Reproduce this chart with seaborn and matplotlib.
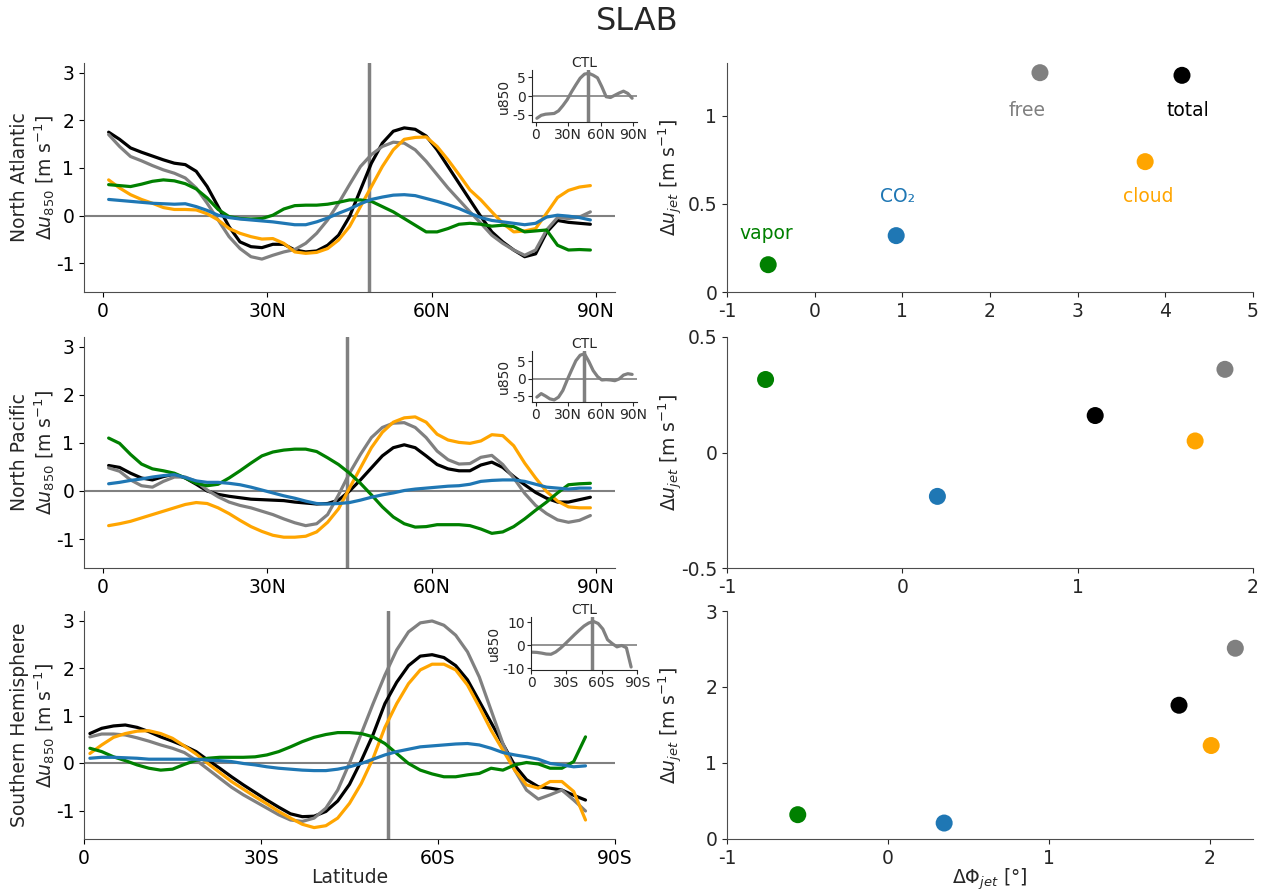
import numpy as np
import pandas as pd
import matplotlib
matplotlib.use('Agg')
import matplotlib.pyplot as plt
import seaborn as sns
from matplotlib.ticker import FuncFormatter

sns.set_style('ticks')
plt.rcParams['font.family'] = ['DejaVu Sans']
plt.rcParams['axes.unicode_minus'] = False

# ---------------- data ----------------
lat_nh = list(range(1, 90, 2))   # 1..89
lat_sh = list(range(1, 86, 2))   # 1..85

# North Atlantic
na_total = [1.75, 1.60, 1.42, 1.33, 1.25, 1.17, 1.10, 1.07, 0.93, 0.61, 0.19, -0.23, -0.55, -0.65, -0.67,
            -0.60, -0.60, -0.72, -0.76, -0.74, -0.62, -0.41, -0.02, 0.54, 1.10, 1.52, 1.77, 1.84, 1.81, 1.67,
            1.38, 1.03, 0.68, 0.33, -0.02, -0.34, -0.55, -0.72, -0.86, -0.80, -0.35, -0.10, -0.14, -0.16, -0.18]
na_free = [1.70, 1.45, 1.24, 1.15, 1.05, 0.96, 0.89, 0.79, 0.58, 0.26, -0.09, -0.44, -0.69, -0.86, -0.91,
           -0.83, -0.76, -0.71, -0.58, -0.37, -0.09, 0.26, 0.65, 1.03, 1.28, 1.45, 1.54, 1.52, 1.38, 1.14,
           0.86, 0.58, 0.33, 0.08, -0.16, -0.41, -0.58, -0.72, -0.83, -0.72, -0.30, -0.04, -0.06, -0.03, 0.08]
na_cloud = [0.75, 0.58, 0.44, 0.34, 0.26, 0.17, 0.13, 0.13, 0.12, 0.04, -0.09, -0.27, -0.37, -0.44, -0.49,
            -0.48, -0.58, -0.76, -0.79, -0.77, -0.69, -0.51, -0.23, 0.19, 0.61, 1.03, 1.38, 1.60, 1.64, 1.65,
            1.45, 1.17, 0.86, 0.54, 0.33, 0.08, -0.16, -0.34, -0.32, -0.27, 0.05, 0.38, 0.53, 0.60, 0.63]
na_vapor = [0.65, 0.63, 0.61, 0.66, 0.72, 0.75, 0.73, 0.67, 0.56, 0.37, 0.13, -0.02, -0.06, -0.07, -0.06,
            0.01, 0.14, 0.21, 0.22, 0.22, 0.24, 0.28, 0.33, 0.33, 0.30, 0.19, 0.08, -0.06, -0.20, -0.34,
            -0.34, -0.27, -0.18, -0.16, -0.18, -0.22, -0.20, -0.23, -0.34, -0.32, -0.30, -0.62, -0.72, -0.71, -0.72]
na_co2 = [0.34, 0.32, 0.30, 0.28, 0.26, 0.25, 0.24, 0.25, 0.19, 0.11, 0.01, -0.04, -0.07, -0.09, -0.11,
          -0.13, -0.16, -0.19, -0.19, -0.13, -0.05, 0.05, 0.14, 0.25, 0.34, 0.39, 0.43, 0.44, 0.42, 0.36,
          0.30, 0.23, 0.15, 0.05, -0.04, -0.10, -0.13, -0.16, -0.19, -0.16, -0.03, 0.01, -0.01, -0.04, -0.09]

# North Pacific
np_total = [0.53, 0.49, 0.37, 0.27, 0.23, 0.30, 0.35, 0.27, 0.14, 0.00, -0.07, -0.11, -0.14, -0.17, -0.18,
            -0.19, -0.20, -0.23, -0.25, -0.27, -0.26, -0.19, 0.00, 0.23, 0.48, 0.73, 0.90, 0.96, 0.90, 0.73,
            0.55, 0.46, 0.42, 0.42, 0.54, 0.60, 0.49, 0.30, 0.13, -0.03, -0.15, -0.23, -0.23, -0.18, -0.13]
np_free = [0.48, 0.41, 0.23, 0.11, 0.08, 0.20, 0.29, 0.29, 0.20, 0.02, -0.12, -0.23, -0.30, -0.35, -0.42,
           -0.49, -0.58, -0.66, -0.72, -0.68, -0.49, -0.08, 0.37, 0.76, 1.11, 1.32, 1.41, 1.42, 1.32, 1.11,
           0.83, 0.65, 0.56, 0.57, 0.70, 0.74, 0.55, 0.27, -0.05, -0.30, -0.47, -0.60, -0.65, -0.61, -0.51]
np_cloud = [-0.72, -0.68, -0.63, -0.56, -0.49, -0.42, -0.35, -0.28, -0.24, -0.26, -0.35, -0.47, -0.61, -0.74, -0.84,
            -0.92, -0.96, -0.96, -0.94, -0.85, -0.65, -0.37, 0.06, 0.48, 0.90, 1.22, 1.43, 1.52, 1.54, 1.43,
            1.18, 1.06, 1.01, 0.99, 1.04, 1.17, 1.15, 0.94, 0.58, 0.27, -0.01, -0.21, -0.33, -0.35, -0.35]
np_vapor = [1.10, 0.99, 0.76, 0.56, 0.46, 0.42, 0.37, 0.27, 0.16, 0.11, 0.14, 0.27, 0.42, 0.58, 0.73,
            0.81, 0.85, 0.87, 0.87, 0.82, 0.69, 0.55, 0.37, 0.16, -0.08, -0.33, -0.54, -0.68, -0.75, -0.74,
            -0.70, -0.70, -0.70, -0.72, -0.79, -0.88, -0.85, -0.74, -0.58, -0.40, -0.23, -0.04, 0.13, 0.15, 0.16]
np_co2 = [0.15, 0.18, 0.22, 0.25, 0.29, 0.32, 0.34, 0.28, 0.21, 0.18, 0.18, 0.16, 0.13, 0.08, 0.02,
          -0.04, -0.10, -0.15, -0.21, -0.26, -0.27, -0.26, -0.24, -0.19, -0.13, -0.08, -0.04, 0.01, 0.04, 0.06,
          0.08, 0.10, 0.11, 0.14, 0.20, 0.22, 0.23, 0.23, 0.20, 0.14, 0.08, 0.06, 0.04, 0.06, 0.06]

# Southern Hemisphere
sh_total = [0.62, 0.73, 0.78, 0.80, 0.75, 0.66, 0.55, 0.46, 0.36, 0.24, 0.06, -0.11, -0.29, -0.46, -0.62,
            -0.78, -0.93, -1.07, -1.13, -1.12, -1.02, -0.80, -0.45, 0.05, 0.60, 1.25, 1.70, 2.05, 2.25, 2.28,
            2.22, 2.05, 1.75, 1.30, 0.85, 0.40, -0.05, -0.35, -0.50, -0.53, -0.57, -0.68, -0.78]
sh_free = [0.55, 0.61, 0.61, 0.59, 0.53, 0.46, 0.38, 0.31, 0.22, 0.06, -0.13, -0.32, -0.51, -0.67, -0.81,
           -0.95, -1.09, -1.20, -1.23, -1.16, -0.95, -0.57, 0.00, 0.62, 1.25, 1.85, 2.38, 2.76, 2.95, 2.99,
           2.90, 2.69, 2.34, 1.81, 1.11, 0.41, -0.15, -0.57, -0.76, -0.67, -0.57, -0.78, -1.01]
sh_cloud = [0.20, 0.38, 0.54, 0.62, 0.67, 0.68, 0.62, 0.52, 0.36, 0.19, -0.01, -0.20, -0.39, -0.55, -0.71,
            -0.86, -1.02, -1.16, -1.29, -1.36, -1.32, -1.16, -0.85, -0.43, 0.10, 0.75, 1.25, 1.67, 1.96, 2.08,
            2.08, 1.96, 1.64, 1.18, 0.69, 0.27, -0.15, -0.46, -0.53, -0.39, -0.39, -0.60, -1.20]
sh_vapor = [0.31, 0.24, 0.13, 0.05, -0.04, -0.11, -0.15, -0.13, -0.03, 0.06, 0.10, 0.12, 0.12, 0.12, 0.13,
            0.17, 0.24, 0.34, 0.45, 0.54, 0.60, 0.64, 0.64, 0.62, 0.55, 0.41, 0.20, -0.01, -0.15, -0.23,
            -0.29, -0.29, -0.25, -0.22, -0.11, -0.15, -0.04, 0.01, -0.02, -0.11, -0.11, 0.03, 0.55]
sh_co2 = [0.10, 0.12, 0.12, 0.11, 0.10, 0.08, 0.08, 0.08, 0.08, 0.08, 0.06, 0.05, 0.03, -0.01, -0.04,
          -0.08, -0.11, -0.13, -0.15, -0.16, -0.16, -0.13, -0.08, -0.01, 0.08, 0.17, 0.24, 0.29, 0.34, 0.36,
          0.38, 0.40, 0.41, 0.38, 0.31, 0.22, 0.17, 0.13, 0.08, -0.01, -0.04, -0.08, -0.06]

# CTL insets
ctl_lat_nh = list(range(1, 90, 4))
ctl_lat_sh = list(range(1, 86, 4))
ctl_na = [-6.0, -5.2, -4.9, -4.8, -4.7, -4.0, -2.6, -1.0, 1.1, 3.0, 4.8, 5.9, 6.1, 5.6, 4.9, 2.5,
          -0.2, -0.4, 0.2, 0.8, 1.3, 0.7, -0.6]
ctl_np = [-5.2, -4.2, -4.9, -5.7, -6.0, -5.2, -3.3, -0.3, 2.5, 5.2, 6.8, 7.2, 5.0, 2.4, 0.7, -0.3,
          -0.2, -0.3, -0.5, 0.0, 1.1, 1.5, 1.3]
ctl_sh = [-3.0, -3.1, -3.4, -3.8, -3.9, -2.9, -1.3, 0.6, 2.6, 4.6, 6.5, 8.3, 9.6, 10.3, 9.4, 7.0,
          2.4, 0.7, -0.7, -0.1, -1.1, -9.4]

jet_lat = [48.5, 44.5, 51.5]

# Jet shift / jet strength change
labels = ['total', 'free', 'cloud', 'vapor', 'CO₂']
colors = ['black', 'gray', 'orange', 'green', 'tab:blue']
dphi_na = [4.19, 2.57, 3.77, -0.53, 0.93]
du_na = [1.23, 1.245, 0.74, 0.155, 0.32]
dphi_np = [1.10, 1.84, 1.67, -0.78, 0.20]
du_np = [0.16, 0.36, 0.05, 0.316, -0.19]
dphi_sh = [1.81, 2.16, 2.01, -0.56, 0.35]
du_sh = [1.76, 2.51, 1.23, 0.32, 0.21]

# ---------------- figure ----------------
fig = plt.figure(figsize=(12.74, 8.9), dpi=100)
W, H = 1274, 890


def rect(x0, y0, x1, y1):
    return [x0 / W, 1 - y1 / H, (x1 - x0) / W, (y1 - y0) / H]


rows = [(63, 292), (337, 568), (611, 839)]
FS = 13.5
spine_col = '0.3'

line_sets = [
    (lat_nh, [na_total, na_free, na_cloud, na_vapor, na_co2]),
    (lat_nh, [np_total, np_free, np_cloud, np_vapor, np_co2]),
    (lat_sh, [sh_total, sh_free, sh_cloud, sh_vapor, sh_co2]),
]
region_names = ['North Atlantic', 'North Pacific', 'Southern Hemisphere']
xlims = [(-3.5, 93.5), (-3.5, 93.5), (0, 90)]
xticklabels = [['0', '30N', '60N', '90N'], ['0', '30N', '60N', '90N'], ['0', '30S', '60S', '90S']]

inset_rects = [(532, 70, 637, 122), (532, 351, 637, 402), (531, 617, 637, 670)]
inset_data = [(ctl_lat_nh, ctl_na), (ctl_lat_nh, ctl_np), (ctl_lat_sh, ctl_sh)]
inset_ylims = [(-7, 7), (-6.6, 8), (-10.7, 12.2)]
inset_yticks = [[-5, 0, 5], [-5, 0, 5], [-10, 0, 10]]
inset_xlabels = [['0', '30N', '60N', '90N'], ['0', '30N', '60N', '90N'], ['0', '30S', '60S', '90S']]

scat = [(dphi_na, du_na), (dphi_np, du_np), (dphi_sh, du_sh)]
sc_xlim = [(-1, 5), (-1, 2), (-1, 2.27)]
sc_ylim = [(0, 1.3), (-0.5, 0.5), (0, 3)]
sc_xticks = [[-1, 0, 1, 2, 3, 4, 5], [-1, 0, 1, 2], [-1, 0, 1, 2]]
sc_yticks = [[0, 0.5, 1], [-0.5, 0, 0.5], [0, 1, 2, 3]]

gfmt = FuncFormatter(lambda v, p: '{:g}'.format(v))

for i, (top, bot) in enumerate(rows):
    # ---- left: zonal wind change profiles ----
    ax = fig.add_axes(rect(84, top, 615, bot))
    lat, series = line_sets[i]
    ax.axhline(0, color='gray', lw=1.5, zorder=1)
    ax.axvline(jet_lat[i], color='gray', lw=2.5, zorder=1)
    for vals, c in zip(series, colors):
        sns.lineplot(x=lat, y=vals, color=c, lw=2.3, ax=ax, zorder=3)
    ax.set_xlim(*xlims[i])
    ax.set_ylim(-1.6, 3.2)
    ax.set_xticks([0, 30, 60, 90])
    ax.set_xticklabels(xticklabels[i])
    ax.set_yticks([-1, 0, 1, 2, 3])
    ax.yaxis.set_major_formatter(gfmt)
    ax.tick_params(labelsize=FS, colors='black')
    ax.set_ylabel(region_names[i] + '\n' + r'$\Delta u_{850}$ [m s$^{-1}$]', fontsize=FS)
    ax.yaxis.set_label_coords(-0.05, 0.5)
    ax.set_xlabel('Latitude' if i == 2 else '', fontsize=FS, labelpad=0)
    sns.despine(ax=ax)
    for s in ['left', 'bottom']:
        ax.spines[s].set_color(spine_col)

    # ---- inset: CTL u850 ----
    axi = fig.add_axes(rect(*inset_rects[i]))
    il, iv = inset_data[i]
    axi.axhline(0, color='gray', lw=1.2)
    axi.axvline(jet_lat[i], color='gray', lw=2.5)
    sns.lineplot(x=il, y=iv, color='gray', lw=2.3, ax=axi)
    axi.set_xlim(*xlims[i])
    axi.set_ylim(*inset_ylims[i])
    axi.set_xticks([0, 30, 60, 90])
    axi.set_xticklabels(inset_xlabels[i])
    axi.set_yticks(inset_yticks[i])
    axi.tick_params(labelsize=10, length=3, pad=1.5)
    axi.set_ylabel('u850', fontsize=10, labelpad=1)
    axi.set_xlabel('')
    axi.set_title('CTL', fontsize=10, pad=2)
    axi.patch.set_alpha(0)
    sns.despine(ax=axi)

    # ---- right: jet shift vs jet speed change ----
    axr = fig.add_axes(rect(727, top, 1253, bot))
    dx, dy = scat[i]
    sns.scatterplot(x=dx, y=dy, hue=labels, palette=colors, s=150, edgecolor='none',
                    legend=False, ax=axr, zorder=3, clip_on=False)
    axr.set_xlim(*sc_xlim[i])
    axr.set_ylim(*sc_ylim[i])
    axr.set_xticks(sc_xticks[i])
    axr.set_yticks(sc_yticks[i])
    axr.xaxis.set_major_formatter(gfmt)
    axr.yaxis.set_major_formatter(gfmt)
    axr.tick_params(labelsize=FS)
    axr.set_ylabel(r'$\Delta u_{jet}$ [m s$^{-1}$]', fontsize=FS)
    axr.yaxis.set_label_coords(-0.08, 0.5)
    axr.set_xlabel(r'$\Delta\Phi_{jet}$ [°]' if i == 2 else '', fontsize=FS, labelpad=-1)
    sns.despine(ax=axr)
    for s in ['left', 'bottom']:
        axr.spines[s].set_color(spine_col)
    if i == 0:
        label_pos = {'total': (4.26, 1.03), 'free': (2.42, 1.03), 'cloud': (3.80, 0.54),
                     'vapor': (-0.55, 0.33), 'CO₂': (0.94, 0.54)}
        for lab, c in zip(labels, colors):
            x, y = label_pos[lab]
            axr.text(x, y, lab, color=c, fontsize=FS, ha='center', va='center')

fig.suptitle('SLAB', fontsize=23, y=1 - 22 / 890, x=0.5, va='center')
fig.savefig('out.png', dpi=100)
